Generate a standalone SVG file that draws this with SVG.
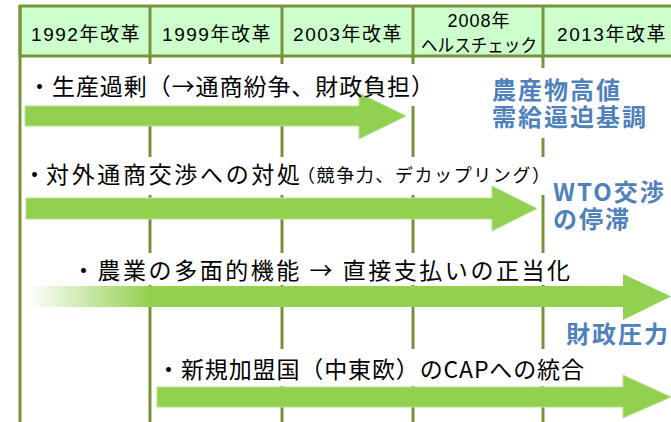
<svg xmlns="http://www.w3.org/2000/svg" width="671" height="422" viewBox="0 0 671 422">
<style>
.grid{stroke:#77933C;stroke-width:3;fill:none}
.hdr{fill:#CCFFCC;stroke:#77933C;stroke-width:3}
.ht{font-family:"Liberation Sans","Noto Sans CJK JP",sans-serif;font-size:19px;letter-spacing:1.5px;fill:#000;text-anchor:middle}
.ht2{font-family:"Liberation Sans","Noto Sans CJK JP",sans-serif;font-size:18px;fill:#000;text-anchor:middle}
.cover{fill:#fff}
.arrow{fill:#92D050;stroke:#B9E08F;stroke-width:1}
.t{font-family:"Noto Sans CJK JP",sans-serif;font-size:23px;fill:#000}
.ts{font-family:"Noto Sans CJK JP",sans-serif;font-size:18px;fill:#000}
.b{font-family:"Noto Sans CJK JP",sans-serif;font-size:24px;font-weight:700;fill:#4F81BD;letter-spacing:2px}
</style>
<defs>
<linearGradient id="fade" gradientUnits="userSpaceOnUse" x1="28" y1="0" x2="150" y2="0">
<stop offset="0" stop-color="#92D050" stop-opacity="0"/>
<stop offset="1" stop-color="#92D050"/>
</linearGradient>
</defs>

<g id="header">
<rect class="hdr" x="20" y="6" width="660" height="50"/>
<text class="ht" x="86" y="41">1992年改革</text>
<text class="ht" x="217" y="41">1999年改革</text>
<text class="ht" x="348" y="41">2003年改革</text>
<text class="ht2" x="479" y="27" letter-spacing="1">2008年</text>
<text class="ht2" x="479" y="52" textLength="116" lengthAdjust="spacingAndGlyphs">ヘルスチェック</text>
<text class="ht" x="612" y="41">2013年改革</text>
</g>

<g id="timeline-grid">
<line class="grid" x1="20" y1="6" x2="20" y2="422"/>
<line class="grid" x1="150" y1="6" x2="150" y2="422"/>
<line class="grid" x1="282" y1="6" x2="282" y2="422"/>
<line class="grid" x1="413" y1="6" x2="413" y2="422"/>
<line class="grid" x1="543" y1="6" x2="543" y2="422"/>
</g>

<g id="covers">
<rect class="cover" x="25" y="64" width="408" height="42"/>
<rect class="cover" x="485" y="68" width="175" height="70"/>
<rect class="cover" x="25" y="157" width="525" height="38"/>
<rect class="cover" x="70" y="253" width="510" height="32"/>
<rect class="cover" x="160" y="349" width="430" height="37"/>
</g>

<g id="connectors">
<polygon class="arrow" points="25,106 359,106 359,93 406,116 359,139 359,126 25,126"/>
<polygon class="arrow" points="26,198 492,198 492,186 537,208.5 492,231 492,219 26,219"/>
<polygon points="28,286 623,286 623,274 671,296.5 623,320 623,307 28,307" fill="url(#fade)"/>
<polygon class="arrow" points="157,387 623,387 623,375 671,397 623,418 623,407 157,407"/>
</g>

<g id="issue-surplus">
<text class="t" x="28" y="95" textLength="406" lengthAdjust="spacing">・生産過剰（→通商紛争、財政負担）</text>
</g>
<g id="pressure-prices">
<text class="b" x="492" y="99">農産物高値<tspan x="492" y="126">需給逼迫基調</tspan></text>
</g>
<g id="issue-trade">
<text class="t" x="23" y="183">・</text>
<text class="t" x="46" y="183" textLength="254" lengthAdjust="spacing">対外通商交渉への対処</text>
<text class="ts" x="297" y="182" textLength="253" lengthAdjust="spacing">（競争力、デカップリング）</text>
</g>
<g id="pressure-wto">
<text class="b" x="553" y="201">WTO交渉<tspan x="553" y="228">の停滞</tspan></text>
</g>
<g id="issue-multifunctionality">
<text class="t" x="72" y="279" textLength="498" lengthAdjust="spacing">・農業の多面的機能 → 直接支払いの正当化</text>
</g>
<g id="pressure-budget">
<text class="b" x="566" y="343">財政圧力</text>
</g>
<g id="issue-enlargement">
<text class="t" x="157" y="378" textLength="427" lengthAdjust="spacing">・新規加盟国（中東欧）のCAPへの統合</text>
</g>
</svg>
